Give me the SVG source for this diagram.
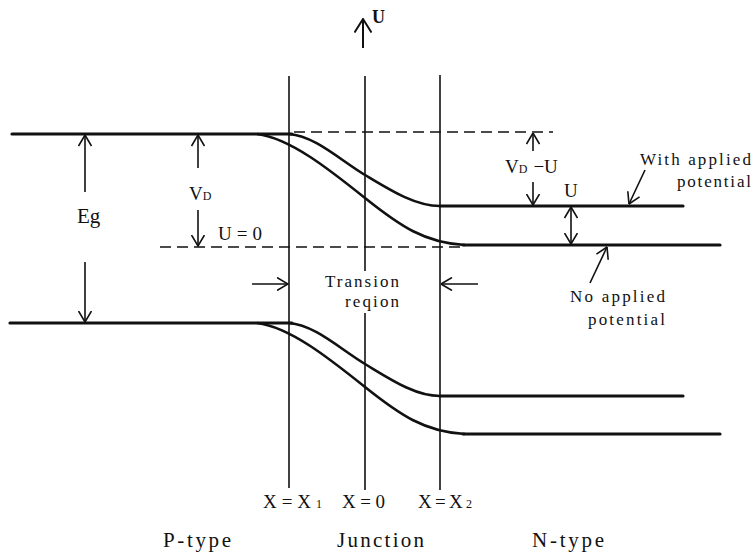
<svg xmlns="http://www.w3.org/2000/svg" width="755" height="555" viewBox="0 0 755 555">
<style>
.band{fill:none;stroke:#111;stroke-width:3.2;stroke-linecap:round}
.curve{fill:none;stroke:#111;stroke-width:2.6}
.vline{fill:none;stroke:#111;stroke-width:1.6}
.dash{fill:none;stroke:#111;stroke-width:1.6;stroke-dasharray:11 6}
.arr{fill:none;stroke:#111;stroke-width:1.6;marker-end:url(#ah)}
.darr{fill:none;stroke:#111;stroke-width:1.6;marker-end:url(#ah);marker-start:url(#ah)}
text{font-family:"Liberation Serif","Times New Roman",serif;fill:#111}
.lbl{font-size:19px}
.sm{font-size:17px}
.big{font-size:21px}
.sub{font-size:12px}
</style>
<defs>
<marker id="ah" viewBox="0 0 12 14" refX="11.5" refY="7" markerWidth="12" markerHeight="14" markerUnits="userSpaceOnUse" orient="auto-start-reverse">
<path d="M0.5,0.5 L11.5,7 L0.5,13.5" fill="none" stroke="#111" stroke-width="1.6"/>
</marker>
<marker id="ahbig" viewBox="0 0 15 18" refX="14" refY="9" markerWidth="15" markerHeight="18" markerUnits="userSpaceOnUse" orient="auto">
<path d="M0.5,0.5 L14,9 L0.5,17.5" fill="none" stroke="#111" stroke-width="2"/>
</marker>
</defs>

<g id="verticals">
<line class="vline" x1="289" y1="76" x2="289" y2="488"/>
<line class="vline" x1="365" y1="76" x2="365" y2="271"/>
<line class="vline" x1="365" y1="313" x2="365" y2="490"/>
<line class="vline" x1="440" y1="75" x2="440" y2="490"/>
</g>

<g id="dashed">
<line class="dash" x1="294" y1="132" x2="553" y2="132"/>
<line class="dash" x1="160" y1="247" x2="463" y2="247"/>
</g>

<g id="conduction-band">
<line class="band" x1="12" y1="134" x2="292" y2="134"/>
<path class="curve" d="M289,134 C315,136 340,160 365,175 S415,206 440,206"/>
<path class="curve" d="M257,134 C290,138 330,170 365,198 S425,243 465,245"/>
<line class="band" x1="440" y1="206" x2="683" y2="206"/>
<line class="band" x1="463" y1="245" x2="720" y2="245"/>
</g>

<g id="valence-band">
<line class="band" x1="10" y1="323" x2="292" y2="323"/>
<path class="curve" d="M289,323 C315,325 340,349 365,364 S415,396 440,396"/>
<path class="curve" d="M257,323 C290,327 330,359 365,387 S425,432 465,434"/>
<line class="band" x1="440" y1="396" x2="683" y2="396"/>
<line class="band" x1="463" y1="434" x2="720" y2="434"/>
</g>

<g id="connectors">
<line x1="363" y1="48" x2="363" y2="19" style="fill:none;stroke:#111;stroke-width:2;marker-end:url(#ahbig)"/>
<line class="arr" x1="85" y1="192" x2="85" y2="135"/>
<line class="arr" x1="85" y1="262" x2="85" y2="322"/>
<line class="arr" x1="198" y1="168" x2="198" y2="135"/>
<line class="arr" x1="198" y1="210" x2="198" y2="246"/>
<line class="arr" x1="533" y1="151" x2="533" y2="133"/>
<line class="arr" x1="533" y1="182" x2="533" y2="205"/>
<line class="darr" x1="571" y1="207" x2="571" y2="244"/>
<line class="arr" x1="252" y1="284" x2="288" y2="284"/>
<line class="arr" x1="478" y1="284" x2="441" y2="284"/>
<line class="arr" x1="645" y1="170" x2="629" y2="204"/>
<line class="arr" x1="590" y1="283" x2="607" y2="247"/>
</g>

<g id="labels">
<text x="372" y="23" style="font-size:18px;font-weight:bold">U</text>
<text x="77" y="223" class="big">Eg</text>
<text x="189" y="200" class="lbl">V<tspan class="sub">D</tspan></text>
<text x="218" y="240" class="lbl" textLength="44" lengthAdjust="spacing">U=0</text>
<text x="505" y="173" class="lbl">V<tspan class="sub">D</tspan><tspan dx="6">−U</tspan></text>
<text x="564" y="197" class="lbl">U</text>
<text x="640" y="165" class="sm" textLength="111" lengthAdjust="spacing">With applied</text>
<text x="677" y="187" class="sm" textLength="74" lengthAdjust="spacing">potential</text>
<text x="570" y="302" class="sm" textLength="95" lengthAdjust="spacing">No applied</text>
<text x="588" y="325" class="sm" textLength="77" lengthAdjust="spacing">potential</text>
<text x="325" y="287" class="sm" textLength="74" lengthAdjust="spacing">Transion</text>
<text x="345" y="307" class="sm" textLength="54" lengthAdjust="spacing">reqion</text>
<text x="263" y="508" class="lbl" textLength="59" lengthAdjust="spacing">X=X<tspan class="sub">1</tspan></text>
<text x="342" y="508" class="lbl" textLength="43" lengthAdjust="spacing">X=0</text>
<text x="418" y="508" class="lbl" textLength="54" lengthAdjust="spacing">X=X<tspan class="sub">2</tspan></text>
<text x="163" y="547" class="big" textLength="68" lengthAdjust="spacing">P-type</text>
<text x="337" y="547" class="big" textLength="87" lengthAdjust="spacing">Junction</text>
<text x="532" y="547" class="big" textLength="72" lengthAdjust="spacing">N-type</text>
</g>
</svg>
